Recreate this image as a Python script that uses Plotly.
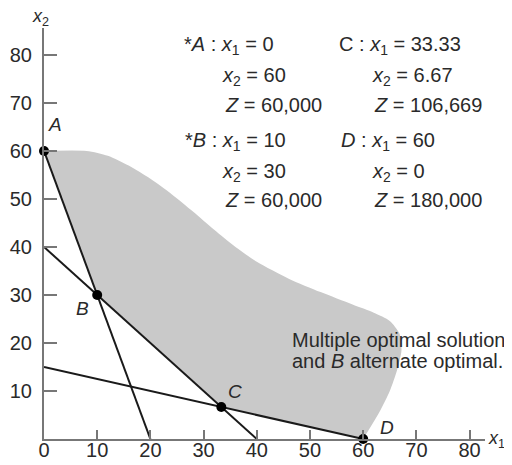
import plotly.graph_objects as go

# ---- data ----
point_names = ["A", "B", "C", "D"]
point_x = [0, 10, 33.33, 60]
point_y = [60, 30, 6.67, 0]

# constraint lines (endpoints)
line1_x = [0, 20]
line1_y = [60, 0]
line2_x = [0, 40]
line2_y = [40, 0]
line3_x = [0, 60]
line3_y = [15, 0]

# shaded region: lower boundary A-B-C-D and a smooth upper boundary from A to D
lower_x = [0, 10, 33.33, 60]
lower_y = [60, 30, 6.67, 0]
upper_x = [0, 8, 12, 16, 20, 24, 28, 32, 36, 40, 46, 52, 58, 62, 65, 66.8,
           67.2, 66.4, 65, 63, 60]
upper_y = [60, 60, 59.0, 56.9, 54.2, 51.0, 47.4, 43.6, 40.0, 36.9, 33.4, 30.6,
           28.0, 26.3, 24.6, 22.0, 18.5, 14.5, 10, 5.5, 0]

x_ticks = [0, 10, 20, 30, 40, 50, 60, 70, 80]
y_ticks = [10, 20, 30, 40, 50, 60, 70, 80]

left_block = ["*<i>A</i> : <i>x</i><sub>1</sub> = 0",
              "<i>x</i><sub>2</sub> = 60",
              "<i>Z</i> = 60,000",
              "*<i>B</i> : <i>x</i><sub>1</sub> = 10",
              "<i>x</i><sub>2</sub> = 30",
              "<i>Z</i> = 60,000"]
right_block = ["C : <i>x</i><sub>1</sub> = 33.33",
               "<i>x</i><sub>2</sub> = 6.67",
               "<i>Z</i> = 106,669",
               "<i>D</i> : <i>x</i><sub>1</sub> = 60",
               "<i>x</i><sub>2</sub> = 0",
               "<i>Z</i> = 180,000"]
note_lines = ["Multiple optimal solutions, <i>A</i>",
              "and <i>B</i> alternate optimal."]

FONT = "Liberation Sans, Arial, sans-serif"
TXT = "#2a2a2a"

fig = go.Figure()
fig.add_trace(go.Scatter(x=lower_x, y=lower_y, mode="lines",
                         line=dict(width=0, color="rgba(0,0,0,0)"), hoverinfo="skip"))
fig.add_trace(go.Scatter(x=upper_x, y=upper_y, mode="lines", fill="tonexty",
                         fillcolor="#c9c9c9", line=dict(width=0, shape="spline",
                                                         smoothing=0.7, color="rgba(0,0,0,0)"),
                         hoverinfo="skip"))
for lx, ly in [(line1_x, line1_y), (line2_x, line2_y), (line3_x, line3_y)]:
    fig.add_trace(go.Scatter(x=lx, y=ly, mode="lines",
                             line=dict(color="#1a1a1a", width=2), cliponaxis=False))
fig.add_trace(go.Scatter(x=point_x, y=point_y, mode="markers",
                         marker=dict(color="black", size=10), cliponaxis=False))

annotations = []
lx_pos = [25.9, 33.1, 33.6, 26.1, 33.1, 33.6]
rx_pos = [55.1, 61.3, 61.7, 55.4, 61.3, 61.7]
row_y = [81.9, 75.4, 69.6, 61.9, 55.6, 49.8]
for t, xx, yy in zip(left_block, lx_pos, row_y):
    annotations.append(dict(x=xx, y=yy, text=t, showarrow=False, xanchor="left",
                            yanchor="middle", font=dict(size=20, color=TXT, family=FONT)))
for t, xx, yy in zip(right_block, rx_pos, row_y):
    annotations.append(dict(x=xx, y=yy, text=t, showarrow=False, xanchor="left",
                            yanchor="middle", font=dict(size=20, color=TXT, family=FONT)))
for t, yy in zip(note_lines, [20.6, 16.2]):
    annotations.append(dict(x=46.3, y=yy, text=t, showarrow=False, xanchor="left",
                            yanchor="middle", font=dict(size=20, color=TXT, family=FONT)))

label_pos = {"A": (2.1, 65.4), "B": (7.3, 27.1), "C": (35.9, 9.8), "D": (64.5, 2.3)}
for n in point_names:
    xx, yy = label_pos[n]
    annotations.append(dict(x=xx, y=yy, text=f"<i>{n}</i>", showarrow=False,
                            xanchor="center", yanchor="middle",
                            font=dict(size=19, color=TXT, family=FONT)))

# axis titles
annotations.append(dict(xref="paper", yref="paper", x=-0.009, y=1.026,
                        xanchor="center", yanchor="middle",
                        text="<i>x</i><sub>2</sub>", showarrow=False,
                        font=dict(size=18, color=TXT, family=FONT)))
annotations.append(dict(xref="paper", yref="paper", x=1.027, y=0.0,
                        xanchor="center", yanchor="middle",
                        text="<i>x</i><sub>1</sub>", showarrow=False,
                        font=dict(size=18, color=TXT, family=FONT)))

# the page body has an 8px default margin, so the figure is offset by 8px
fig.update_layout(
    width=504, height=457,
    margin=dict(l=36, r=27, t=20, b=26),
    plot_bgcolor="white", paper_bgcolor="white",
    showlegend=False,
    annotations=annotations,
    xaxis=dict(range=[0, 82.9], tickvals=x_ticks, ticks="inside", ticklen=9,
               tickcolor="#777", tickwidth=1.5, showline=True, linecolor="#777",
               linewidth=2, showgrid=False, zeroline=False, automargin=False,
               ticklabelstandoff=-8,
               tickfont=dict(size=20, color=TXT, family=FONT)),
    yaxis=dict(range=[0, 85.6], tickvals=y_ticks, ticks="inside", ticklen=13,
               tickcolor="#777", tickwidth=1.5, showline=True, linecolor="#777",
               linewidth=2, showgrid=False, zeroline=False, ticklabelstandoff=6,
               automargin=False,
               tickfont=dict(size=20, color=TXT, family=FONT)),
)

fig.write_html("out.html")
